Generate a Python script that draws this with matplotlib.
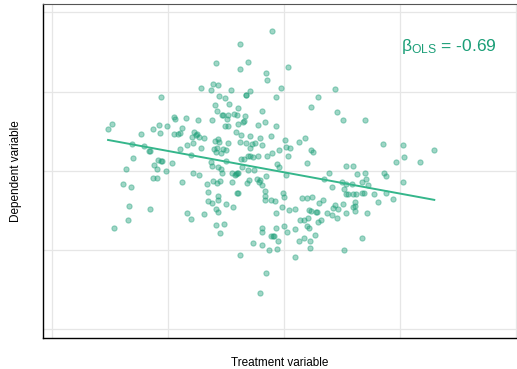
import matplotlib
matplotlib.use("Agg")
import matplotlib.pyplot as plt
from matplotlib.ticker import MultipleLocator
import numpy as np

plt.rcParams["font.family"] = ["Liberation Sans", "DejaVu Sans"]
plt.rcParams["mathtext.fontset"] = "custom"
plt.rcParams["mathtext.rm"] = "Liberation Sans"

VERDE = "#1b9e77"
GRADE = "#e6e6e6"

# treatment (x) and dependent (y) values
treatment = [
    -0.38, -1.32, -2.04, -1.07, -1.33, 0.12, -0.55, -0.52, -2.12, -1.97,
    -2.50, -2.20, -1.59, -1.02, -1.13, -1.15, -0.10, 1.51, -3.69, -1.95,
    -1.77, -0.24, 1.02, -2.08, -1.64, -1.37, 0.80, -0.65, -2.01, 1.58,
    -3.29, -3.26, -2.94, -2.57, -2.16, -1.87, -1.82, -1.67, -1.50, -1.42,
    -1.18, -1.21, -1.22, -1.70, -0.57, -0.79, 1.75, 2.42, -5.28, -5.15,
    -3.94, -3.75, -3.50, -3.06, -1.39, -1.76, -0.26, -1.68, -4.30, -3.72,
    -3.29, -3.19, -3.13, -2.69, -2.62, -2.64, -2.55, -2.77, -2.39, -1.45,
    -1.28, -1.03, -0.72, -0.41, 0.03, 0.62, -4.55, -4.21, -4.05, -4.01,
    -3.12, -2.90, -2.73, -2.48, -2.08, -1.98, -1.94, -1.69, -1.33, -1.15,
    -0.95, -0.86, -0.65, -1.02, -2.01, -2.10, -2.04, -1.84, -1.89, -1.75,
    0.06, 0.18, 0.44, -0.15, 0.80, 0.87, 2.97, 3.55, 4.50, -4.52,
    -3.79, -3.70, -3.65, -3.91, -3.36, -2.80, -2.20, -2.17, -1.97, -1.73,
    -1.28, -1.20, -1.07, -1.02, -0.93, -0.78, -0.52, -0.38, -0.23, -0.16,
    0.12, 0.69, 3.60, 3.34, 4.06, -4.73, -3.81, -3.55, -2.74, -2.54,
    -1.90, -1.87, -1.56, -1.47, -1.44, -1.41, -1.37, -1.27, -1.09, -0.90,
    -0.55, 0.05, 1.34, 1.86, 2.06, 2.17, 2.42, 3.00, 3.04, -4.84,
    -4.60, -3.94, -3.82, -3.07, -2.30, -2.12, -2.02, -1.92, -1.56, -1.11,
    -1.05, -0.81, -0.71, -0.65, -0.75, 1.19, 1.74, 1.84, 2.03, 2.32,
    2.51, 2.46, 3.55, -2.27, -1.97, -1.98, -1.39, -1.41, -0.58, -0.56,
    -0.04, -0.02, 1.43, 1.79, 1.85, 1.90, 2.14, 2.34, 2.40, 2.69,
    3.05, 3.25, 2.81, 2.05, -4.66, -4.03, -2.28, -2.17, -2.05, -1.75,
    -1.53, -0.56, -0.39, -0.28, -0.08, 0.52, 0.69, 0.82, 1.16, 1.05,
    1.51, 1.77, 2.07, 2.12, 2.11, 1.45, 1.62, -4.68, -5.10, -2.91,
    -2.78, -2.41, -1.98, -0.24, 0.14, 0.32, 0.73, 0.79, 0.94, 0.98,
    1.29, 0.70, 0.47, 0.60, 1.09, 1.00, 1.44, 1.58, 1.84, 2.47,
    2.13, -2.03, -1.79, -1.91, -0.65, -0.67, -0.26, 0.00, 0.09, 0.32,
    0.69, 0.73, 0.93, -0.40, -0.33, -0.31, -0.18, 0.59, 0.45, 0.76,
    0.78, 2.33, -0.92, -0.65, -0.45, -0.21, -1.31, 0.31, 1.79, -0.54,
    -0.71,
]
dependent = [
    4.20, 3.81, 3.23, 3.26, 3.07, 3.11, 2.95, 2.73, 2.61, 2.59,
    2.48, 2.42, 2.43, 2.39, 2.29, 2.27, 2.49, 2.46, 2.22, 2.26,
    2.19, 2.21, 2.21, 1.97, 2.00, 1.89, 1.93, 1.81, 1.80, 1.78,
    1.61, 1.55, 1.58, 1.54, 1.53, 1.67, 1.67, 1.67, 1.72, 1.68,
    1.66, 1.51, 1.48, 1.57, 1.47, 1.37, 1.53, 1.53, 1.27, 1.41,
    1.25, 1.39, 1.34, 1.29, 1.41, 1.34, 1.36, 1.34, 1.11, 1.15,
    1.11, 1.10, 1.14, 1.16, 1.12, 1.07, 1.03, 1.03, 0.99, 1.18,
    1.07, 1.04, 1.00, 1.04, 0.92, 1.00, 0.81, 0.75, 0.61, 0.59,
    0.65, 0.79, 0.85, 0.69, 0.91, 0.96, 0.88, 0.85, 0.88, 0.85,
    0.81, 0.83, 0.77, 0.70, 0.68, 0.67, 0.58, 0.67, 0.54, 0.62,
    0.71, 0.70, 0.87, 0.62, 0.62, 0.56, 0.82, 0.77, 0.62, 0.40,
    0.34, 0.31, 0.31, 0.19, 0.24, 0.49, 0.26, 0.16, 0.12, 0.29,
    0.36, 0.35, 0.44, 0.45, 0.42, 0.46, 0.44, 0.54, 0.22, 0.13,
    0.46, 0.25, 0.43, 0.28, 0.27, 0.07, 0.05, 0.01, -0.05, -0.12,
    0.05, -0.07, -0.07, -0.11, -0.08, -0.07, -0.07, 0.12, 0.04, 0.03,
    -0.14, -0.11, -0.05, 0.15, 0.15, -0.09, -0.05, -0.07, -0.15, -0.39,
    -0.48, -0.21, -0.21, -0.34, -0.40, -0.31, -0.37, -0.31, -0.33, -0.37,
    -0.26, -0.24, -0.27, -0.42, -0.34, -0.24, -0.32, -0.39, -0.38, -0.33,
    -0.42, -0.23, -0.33, -0.62, -0.75, -0.87, -0.67, -0.67, -0.59, -0.76,
    -0.65, -0.78, -0.47, -0.54, -0.70, -0.70, -0.68, -0.67, -0.67, -0.70,
    -0.65, -0.84, -0.93, -0.69, -1.06, -1.15, -0.90, -0.98, -1.14, -1.01,
    -1.09, -0.87, -0.89, -0.91, -1.09, -0.81, -0.83, -0.79, -0.89, -0.98,
    -1.02, -1.01, -1.08, -0.94, -1.07, -1.13, -1.14, -1.49, -1.71, -1.28,
    -1.46, -1.30, -1.24, -1.28, -1.19, -1.16, -1.19, -1.21, -1.25, -1.24,
    -1.26, -1.41, -1.49, -1.47, -1.48, -1.54, -1.32, -1.43, -1.28, -1.27,
    -1.22, -1.64, -1.61, -1.86, -1.73, -1.84, -1.72, -1.67, -1.83, -1.76,
    -1.67, -1.72, -1.92, -1.97, -1.96, -1.95, -2.11, -2.03, -2.12, -2.12,
    -2.31, -2.03, -2.17, -2.22, -2.39, -2.35, -2.52, -2.60, -2.38, -3.07,
    -3.66,
]
beta_label = "-0.69"

x = np.array(treatment)
y = np.array(dependent)
slope, intercept = np.polyfit(x, y, 1)
xs = np.array([x.min(), x.max()])

fig = plt.figure(figsize=(5.17, 3.69), dpi=100)
ax = fig.add_axes([0.0832, 0.084, 0.9168, 0.905])

ax.scatter(x, y, s=14, color=VERDE, alpha=0.42, edgecolors=VERDE,
           linewidths=0.8, zorder=3)
ax.plot(xs, intercept + slope * xs, color="#35b68b", lw=1.4, zorder=4)

ax.set_xlim(-7.23, 6.98)
ax.set_ylim(-5.02, 5.01)
ax.xaxis.set_major_locator(MultipleLocator(3.48))
ax.yaxis.set_major_locator(MultipleLocator(2.38))
ax.grid(True, color=GRADE, lw=0.9, zorder=0)
ax.tick_params(length=0, labelbottom=False, labelleft=False)
ax.spines["right"].set_visible(False)
for s in ("left", "bottom"):
    ax.spines[s].set_color("black")
    ax.spines[s].set_linewidth(1.0)
ax.spines["top"].set_color("#555555")
ax.spines["top"].set_linewidth(0.8)

ax.set_xlabel("Treatment variable", fontsize=8.5, labelpad=14)
ax.set_ylabel("Dependent variable", fontsize=8.5, labelpad=15)

ax.text(0.958, 0.858, r"$\mathrm{\beta_{OLS}}$ = " + beta_label,
        transform=ax.transAxes, ha="right", va="baseline",
        fontsize=12.5, color=VERDE)

fig.savefig("out.png", dpi=100)
